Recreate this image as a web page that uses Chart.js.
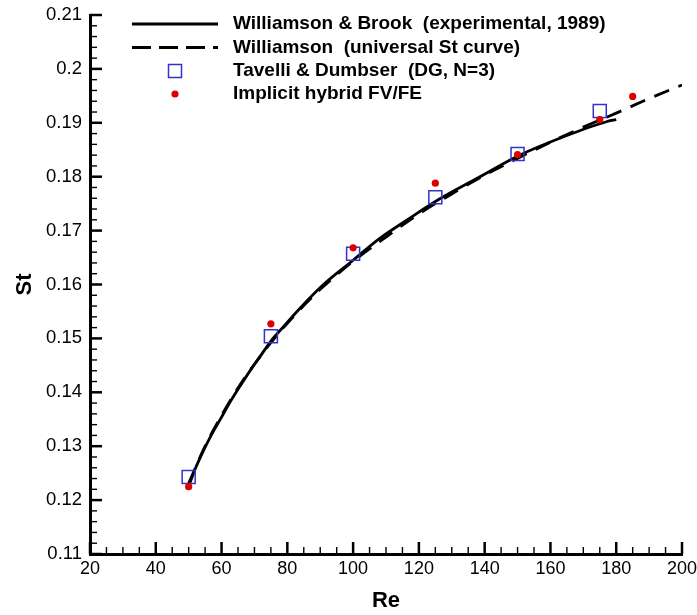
<!DOCTYPE html>
<html>
<head>
<meta charset="utf-8">
<script src="https://cdn.jsdelivr.net/npm/chart.js@4.4.1/dist/chart.umd.min.js"></script>
<style>
  html, body { margin: 0; padding: 0; background: #fff; }
</style>
</head>
<body>
<canvas id="graficoStrouhal" width="697" height="615"></canvas>
<script>
// --- dados ---
const expRe = [50.4, 52, 54.6, 57, 60, 63, 66, 69, 72, 75, 78, 84, 91, 100, 108, 117, 125, 138, 150, 164, 177, 180];
const expSt = [0.1232, 0.1258, 0.1293, 0.1322, 0.1354, 0.1386, 0.1415, 0.1443, 0.1469, 0.1495, 0.1516, 0.1557, 0.1600, 0.1645, 0.1685, 0.1722, 0.1754, 0.1798, 0.1838, 0.1874, 0.1902, 0.1906];

const uniRe = [50, 55, 60, 65, 70, 75, 80, 85, 90, 95, 100, 110, 120, 130, 140, 150, 160, 170, 180, 190, 200];
const uniSt = [0.1231, 0.1300, 0.1357, 0.1408, 0.1452, 0.1492, 0.1528, 0.1561, 0.1591, 0.1618, 0.1643, 0.1688, 0.1731, 0.1768, 0.1803, 0.1834, 0.1864, 0.1892, 0.1918, 0.1945, 0.1970];

const dgRe = [50, 75, 100, 125, 150, 175];
const dgSt = [0.1243, 0.1504, 0.1657, 0.1762, 0.1842, 0.1922];

const hybRe = [50, 75, 100, 125, 150, 175, 185];
const hybSt = [0.1225, 0.1527, 0.1668, 0.1788, 0.1841, 0.1906, 0.1949];

const legendLabels = [
    'Williamson & Brook  (experimental, 1989)',
    'Williamson  (universal St curve)',
    'Tavelli & Dumbser  (DG, N=3)',
    'Implicit hybrid FV/FE'
];

const X_MIN = 20, X_MAX = 200, X_STEP = 20, X_MINOR = 5;
const Y_MIN = 0.11, Y_MAX = 0.21, Y_STEP = 0.01, Y_MINOR = 0.002;

const FONT = "'Liberation Sans', Arial, Helvetica, sans-serif";
const BLUE = 'rgb(50,50,205)';
const RED = 'rgb(220,0,0)';

const pts = (xs, ys) => xs.map((v, i) => ({ x: v, y: ys[i] }));

// --- marcas de escala para dentro (maiores e menores) ---
const tickMarks = {
    id: 'tickMarks',
    afterDraw(chart) {
        const { ctx, scales: { x, y }, chartArea: a } = chart;
        ctx.save();
        ctx.strokeStyle = '#000';
        for (let v = X_MIN; v <= X_MAX + 0.001; v += X_MINOR) {
            const px = x.getPixelForValue(v);
            const major = Math.abs(v % X_STEP) < 0.001;
            ctx.lineWidth = major ? 2.5 : 1.4;
            ctx.beginPath();
            ctx.moveTo(px, a.bottom);
            ctx.lineTo(px, a.bottom - (major ? 12 : 7));
            ctx.stroke();
        }
        const n = Math.round((Y_MAX - Y_MIN) / Y_MINOR);
        for (let i = 0; i <= n; i++) {
            const py = y.getPixelForValue(Y_MIN + i * Y_MINOR);
            const major = i % 5 === 0;
            ctx.lineWidth = major ? 2.5 : 1.4;
            ctx.beginPath();
            ctx.moveTo(a.left, py);
            ctx.lineTo(a.left + (major ? 12 : 7), py);
            ctx.stroke();
        }
        ctx.restore();
    }
};

// --- legenda desenhada dentro do gráfico ---
const legendBox = {
    id: 'legendBox',
    afterDraw(chart) {
        const ctx = chart.ctx;
        const rows = [24, 47.5, 71, 94];
        ctx.save();
        ctx.strokeStyle = '#000';
        ctx.lineWidth = 2.8;
        ctx.beginPath(); ctx.moveTo(132, rows[0]); ctx.lineTo(218, rows[0]); ctx.stroke();
        ctx.setLineDash([19, 8]);
        ctx.beginPath(); ctx.moveTo(132, rows[1]); ctx.lineTo(218, rows[1]); ctx.stroke();
        ctx.setLineDash([]);
        ctx.strokeStyle = BLUE;
        ctx.lineWidth = 1.5;
        ctx.strokeRect(175 - 6.5, rows[2] - 6.5, 13, 13);
        ctx.fillStyle = RED;
        ctx.beginPath(); ctx.arc(175, rows[3], 3.6, 0, Math.PI * 2); ctx.fill();
        ctx.fillStyle = '#000';
        ctx.font = 'bold 19px ' + FONT;
        ctx.textBaseline = 'middle';
        ctx.textAlign = 'left';
        legendLabels.forEach((t, i) => ctx.fillText(t, 233, rows[i]));
        ctx.restore();
    }
};

new Chart(document.getElementById('graficoStrouhal'), {
    type: 'scatter',
    data: {
        datasets: [
            {
                label: legendLabels[3],
                data: pts(hybRe, hybSt),
                pointStyle: 'circle',
                pointRadius: 3.6,
                backgroundColor: RED,
                borderColor: RED,
                borderWidth: 0,
                showLine: false
            },
            {
                label: legendLabels[2],
                data: pts(dgRe, dgSt),
                pointStyle: 'rect',
                pointRadius: 9.2,
                backgroundColor: 'rgba(0,0,0,0)',
                borderColor: BLUE,
                borderWidth: 1.5,
                showLine: false
            },
            {
                label: legendLabels[0],
                data: pts(expRe, expSt),
                showLine: true,
                borderColor: '#000',
                borderWidth: 2.8,
                pointRadius: 0,
                cubicInterpolationMode: 'monotone'
            },
            {
                label: legendLabels[1],
                data: pts(uniRe, uniSt),
                showLine: true,
                borderColor: '#000',
                borderWidth: 2.8,
                borderDash: [16, 10],
                pointRadius: 0,
                cubicInterpolationMode: 'monotone'
            }
        ]
    },
    options: {
        responsive: false,
        animation: false,
        devicePixelRatio: 1,
        layout: { padding: { top: 15, right: 15, left: 0, bottom: 0 } },
        plugins: { legend: { display: false }, tooltip: { enabled: false } },
        scales: {
            x: {
                type: 'linear', min: X_MIN, max: X_MAX,
                ticks: { stepSize: X_STEP, color: '#000', font: { family: FONT, size: 18 }, padding: 4, maxRotation: 0, autoSkip: false },
                grid: { display: false, drawTicks: false },
                border: { display: true, color: '#000', width: 3 },
                title: { display: true, text: 'Re', color: '#000', font: { family: FONT, size: 22, weight: 'bold' }, padding: { top: 0, bottom: 1 } },
                afterFit: (s) => { s.height = 61; s.paddingLeft = 0; s.paddingRight = 0; }
            },
            y: {
                type: 'linear', min: Y_MIN, max: Y_MAX,
                ticks: { stepSize: Y_STEP, color: '#000', font: { family: FONT, size: 18.5 }, padding: 8, autoSkip: false,
                         callback: (v) => String(+v.toFixed(2)) },
                grid: { display: false, drawTicks: false },
                border: { display: true, color: '#000', width: 3 },
                title: { display: true, text: 'St', color: '#000', font: { family: FONT, size: 22, weight: 'bold' }, padding: { top: 12, bottom: 0 } },
                afterFit: (s) => { s.width = 90; s.paddingTop = 0; s.paddingBottom = 0; }
            }
        }
    },
    plugins: [tickMarks, legendBox]
});
</script>
</body>
</html>
